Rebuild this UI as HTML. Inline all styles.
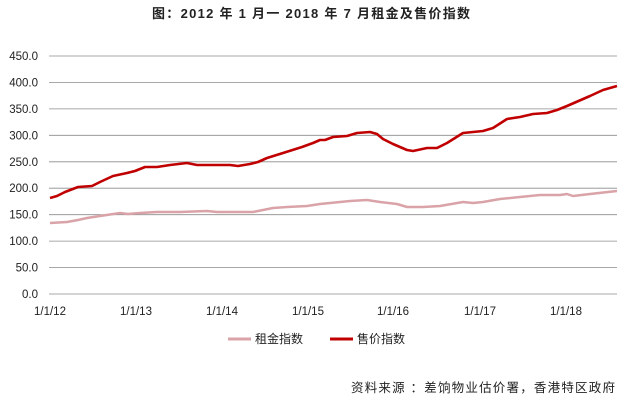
<!DOCTYPE html>
<html><head><meta charset="utf-8"><style>
body{margin:0;background:#fff;width:623px;height:408px;overflow:hidden}
text{font-family:"Liberation Sans","Noto Sans CJK SC",sans-serif}
</style></head><body>
<svg width="623" height="408" xmlns="http://www.w3.org/2000/svg">
<text x="311" y="18" text-anchor="middle" font-size="13" font-weight="bold" fill="#222" textLength="318" lengthAdjust="spacing">图：2012 年 1 月一 2018 年 7 月租金及售价指数</text>
<g stroke="#8c8c8c" stroke-width="0.8">
<line x1="49" x2="617" y1="56" y2="56"/><line x1="49" x2="617" y1="82.4" y2="82.4"/><line x1="49" x2="617" y1="108.9" y2="108.9"/><line x1="49" x2="617" y1="135.3" y2="135.3"/><line x1="49" x2="617" y1="161.8" y2="161.8"/><line x1="49" x2="617" y1="188.2" y2="188.2"/><line x1="49" x2="617" y1="214.7" y2="214.7"/><line x1="49" x2="617" y1="241.1" y2="241.1"/><line x1="49" x2="617" y1="267.6" y2="267.6"/><line x1="49" x2="617" y1="294" y2="294"/>
</g>
<g font-size="11.5" fill="#222" text-anchor="end">
<text x="38" y="60">450.0</text><text x="38" y="86.4">400.0</text><text x="38" y="112.9">350.0</text><text x="38" y="139.3">300.0</text><text x="38" y="165.8">250.0</text><text x="38" y="192.2">200.0</text><text x="38" y="218.7">150.0</text><text x="38" y="245.1">100.0</text><text x="38" y="271.6">50.0</text><text x="38" y="298">0.0</text>
</g>
<g font-size="11.5" fill="#222" text-anchor="middle">
<text x="50" y="315">1/1/12</text><text x="136" y="315">1/1/13</text><text x="222" y="315">1/1/14</text><text x="308" y="315">1/1/15</text><text x="393" y="315">1/1/16</text><text x="480" y="315">1/1/17</text><text x="566" y="315">1/1/18</text>
</g>
<polyline fill="none" stroke="#d9a3a8" stroke-width="2.5" stroke-linejoin="round" points="50,223 67,222 78,220 87,218 100,216 120,213 128,214 140,213 157,212 180,212 207,211 217,212 253,212 273,208 287,207 307,206 320,204 350,201 367,200 380,202 397,204 407,207 423,207 440,206 463,202 473,203 483,202 500,199 520,197 540,195 560,195 567,194 573,196 590,194 617,191"/>
<polyline fill="none" stroke="#c00000" stroke-width="2.6" stroke-linejoin="round" points="50,198 57,196 65,192 78,187 92,186 100,182 113,176 127,173 135,171 145,167 157,167 170,165 187,163 197,165 230,165 238,166 250,164 258,162 267,158 283,153 302,147 313,143 320,140 325,140 333,137 347,136 357,133 370,132 377,134 383,139 393,144 407,150 413,151 427,148 437,148 447,143 463,133 473,132 483,131 493,128 507,119 520,117 533,114 547,113 557,110 567,106 590,96 603,90 617,86"/>
<line x1="228" x2="251" y1="339" y2="339" stroke="#d9a3a8" stroke-width="3"/>
<text x="255" y="343" font-size="12" fill="#222">租金指数</text>
<line x1="330" x2="353" y1="339" y2="339" stroke="#c00000" stroke-width="3"/>
<text x="357" y="343" font-size="12" fill="#222">售价指数</text>
<text x="615" y="392" text-anchor="end" font-size="12.5" fill="#222" textLength="264" lengthAdjust="spacing">资料来源 ：差饷物业估价署，香港特区政府</text>
</svg>
</body></html>
